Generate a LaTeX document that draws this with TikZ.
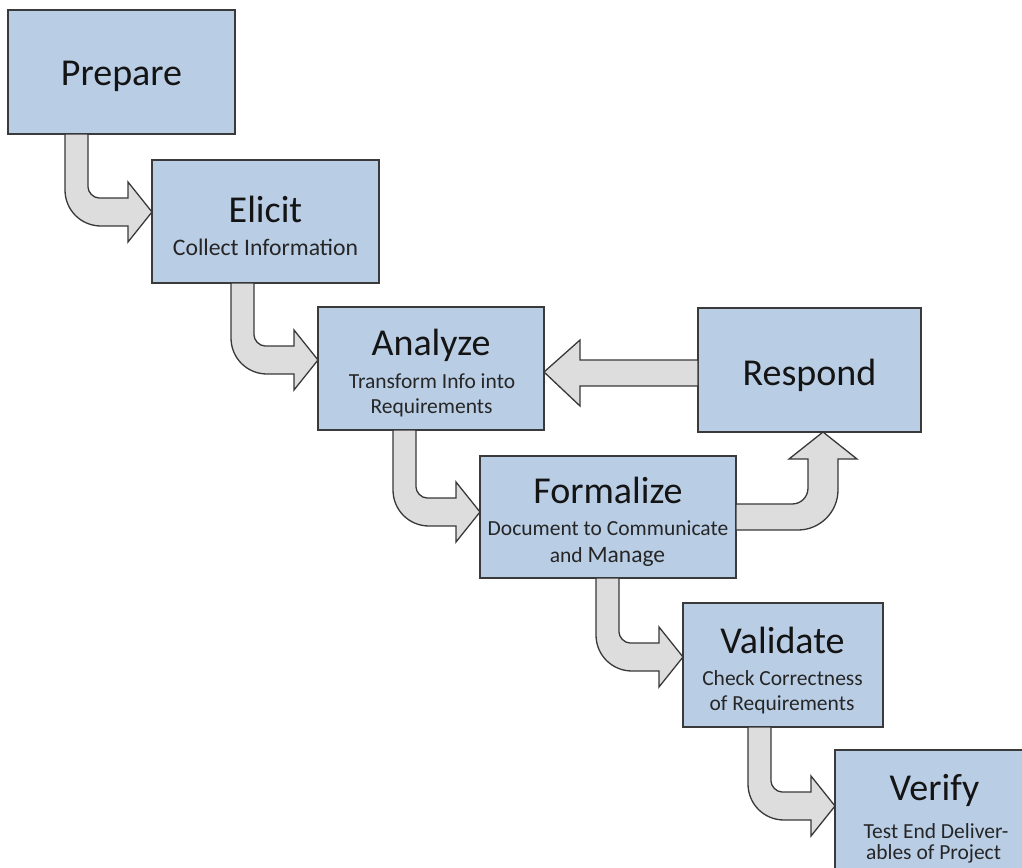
\documentclass[tikz,border=0pt]{standalone}
\usepackage{fontspec}
\setmainfont{Carlito}
\usetikzlibrary{calc}
\definecolor{boxfill}{HTML}{B9CDE5}
\definecolor{boxline}{HTML}{3A3A3A}
\definecolor{arrfill}{HTML}{DDDDDD}
\definecolor{arrline}{HTML}{383838}
% bent block arrow: #1 source node, #2 target node, #3 tip offset below target top
\newcommand{\bentdownright}[3]{%
  \coordinate (tip-#2) at ($(#2.north west)+(0,#3)$);
  \coordinate (src-#2) at (#1.south);
  \coordinate (aL-#2) at ($(tip-#2)+(-87,0)$);
  \coordinate (aR-#2) at ($(tip-#2)+(-64,0)$);
  \draw[blockarrow]
    (aL-#2 |- src-#2) -- ($(tip-#2)+(-87,14-36)$)
    .. controls ($(tip-#2)+(-87,14-16)$) and ($(tip-#2)+(-87+16,14)$) .. ($(tip-#2)+(-87+36,14)$)
    -- ($(tip-#2)+(-24,14)$) -- ($(tip-#2)+(-24,30)$) -- (tip-#2)
    -- ($(tip-#2)+(-24,-30)$) -- ($(tip-#2)+(-24,-14)$)
    -- ($(tip-#2)+(-64+11,-14)$)
    .. controls ($(tip-#2)+(-64+5,-14)$) and ($(tip-#2)+(-64,-14-6)$) .. ($(tip-#2)+(-64,-14-11)$)
    -- (aR-#2 |- src-#2) -- cycle;
}
\begin{document}
\begin{tikzpicture}[x=1pt,y=-1pt,
  box/.style={draw=boxline,fill=boxfill,line width=1.6pt,inner sep=0pt,outer sep=0pt,rectangle},
  ttl/.style={anchor=base,inner sep=0pt,font=\fontsize{38}{40}\selectfont,text=black!92},
  sub/.style={anchor=base,inner sep=0pt,font=\fontsize{21.5}{24}\selectfont,text=black!85},
  blockarrow/.style={draw=arrline,fill=arrfill,line width=1.3pt,line join=miter}]
\useasboundingbox (0,0) rectangle (1022,867);
\clip (0,0) rectangle (1022,867);

% boxes
\node[box,minimum width=227pt,minimum height=124pt] (prep) at (121.5,72) {};
\node[box,minimum width=227pt,minimum height=123pt] (elic) at (265.5,221.5) {};
\node[box,minimum width=226pt,minimum height=123pt] (anal) at (431,368.5) {};
\node[box,minimum width=223pt,minimum height=124pt] (resp) at (809.5,370) {};
\node[box,minimum width=256pt,minimum height=122pt] (form) at (608,517) {};
\node[box,minimum width=200pt,minimum height=124pt] (vali) at (783,665) {};
\node[box,minimum width=200pt,minimum height=124pt] (veri) at (935,812) {};

% texts
\node[ttl] (prepT) at (121.5,85) {Prepare};
\node[ttl] (elicT) at (265.5,222) {Elicit};
\node[sub,font=\fontsize{23.7}{26}\selectfont] (elicS) at (265.5,255) {Collect Information};
\node[ttl] (analT) at (431,355) {Analyze};
\node[sub] (analS1) at (432,388) {Transform Info into};
\node[sub] (analS2) at (431.5,413) {Requirements};
\node[ttl] (respT) at (809.5,385) {Respond};
\node[ttl] (formT) at (608,503) {Formalize};
\node[sub] (formS1) at (608,535) {Document to Communicate};
\node[sub] (formS2) at (607.5,562) {and {\fontsize{23.5}{26}\selectfont Manage}};
\node[ttl] (valiT) at (782.5,653) {Validate};
\node[sub] (valiS1) at (782.5,685) {Check Correctness};
\node[sub] (valiS2) at (782,710) {of Requirements};
\node[ttl] (veriT) at (934.5,800) {Verify};
\node[sub] (veriS1) at (936,838) {Test End Deliver-};
\node[sub] (veriS2) at (933.5,859) {ables of Project};

% down-right bent arrows
\bentdownright{prep}{elic}{52}
\bentdownright{elic}{anal}{53}
\bentdownright{anal}{form}{56}
\bentdownright{form}{vali}{54}
\bentdownright{vali}{veri}{56}

% Formalize -> Respond (bent up)
\coordinate (ftip) at ($(resp.south)+(13.5,0)$);
\coordinate (fs) at ($(ftip)+(0,72)$);
\coordinate (fb) at ($(ftip)+(0,98)$);
\draw[blockarrow]
  (form.east |- fs) -- ($(ftip)+(-31,72)$)
  .. controls ($(ftip)+(-22,72)$) and ($(ftip)+(-15,65)$) .. ($(ftip)+(-15,56)$)
  -- ($(ftip)+(-15,27)$) -- ($(ftip)+(-34,27)$) -- (ftip)
  -- ($(ftip)+(34,27)$) -- ($(ftip)+(15,27)$) -- ($(ftip)+(15,58)$)
  .. controls ($(ftip)+(15,80)$) and ($(ftip)+(-3,98)$) .. ($(ftip)+(-25,98)$)
  -- (form.east |- fb) -- cycle;

% Respond -> Analyze (straight)
\coordinate (gt) at ($(anal.east)+(0,3.5)$);
\coordinate (g1) at ($(gt)+(0,-12)$);
\coordinate (g2) at ($(gt)+(0,14)$);
\draw[blockarrow]
  (resp.west |- g1) -- ($(gt)+(36,-12)$) -- ($(gt)+(36,-32)$) -- (gt)
  -- ($(gt)+(36,34)$) -- ($(gt)+(36,14)$) -- (resp.west |- g2) -- cycle;
\end{tikzpicture}
\end{document}
